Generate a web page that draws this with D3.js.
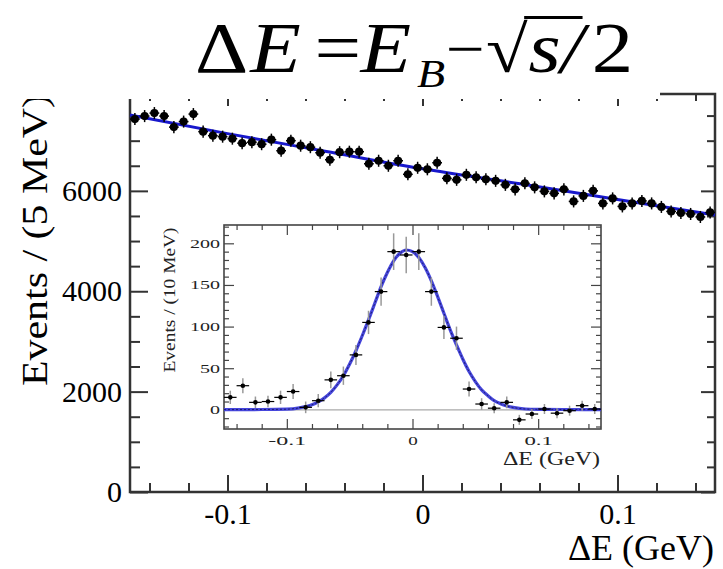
<!DOCTYPE html>
<meta charset="utf-8" />
<html>
  <head>
    <script src="https://d3js.org/d3.v7.min.js"></script>
    <style>
      body {
        margin: 0;
        background-color: white;
      }
    </style>
  </head>
  <body>
    <div id="chart"></div>
  </body>

  <script>
    // main plot: 5 MeV bins from -0.15 to 0.15 GeV
    const binLo = -0.15;
    const mainBin = 0.005;
    const mainCounts = [7430, 7490, 7550, 7490, 7270, 7380, 7530, 7180, 7100, 7080,
                        7040, 6950, 6970, 6930, 7020, 6800, 7000, 6900, 6870, 6760,
                        6620, 6770, 6780, 6780, 6540, 6600, 6500, 6600, 6330, 6460,
                        6430, 6560, 6250, 6220, 6320, 6270, 6230, 6200, 6120, 6030,
                        6150, 6070, 5990, 5950, 6030, 5790, 5900, 6000, 5750, 5850,
                        5690, 5750, 5800, 5750, 5680, 5590, 5560, 5540, 5480, 5570];
    const mainErr = 120;
    const mainFitX = [-0.15, -0.1, -0.05, 0, 0.05, 0.1, 0.15];
    const mainFitY = [7510, 7140, 6790, 6440, 6140, 5830, 5520];
    const mainYMajor = [0, 2000, 4000, 6000];
    const mainXMajor = [-0.1, 0, 0.1];

    // inset: 10 MeV bins, background subtracted
    const insetBin = 0.01;
    const insetCounts = [15, 29, 9, 10, 15, 22, 3, 11, 36, 41,
                         66, 105, 142, 190, 186, 190, 142, 99, 86, 25,
                         7, 2, 9, -12, -5, 1, -4, -1, 5, 1];
    const insetErrs = [8, 9, 7, 7, 8, 9, 7, 8, 10, 11,
                       12, 14, 17, 22, 22, 22, 17, 14, 14, 9,
                       7, 6, 7, 6, 6, 6, 6, 6, 6, 6];
    const insetFitX = [-0.15, -0.12, -0.1, -0.09, -0.08, -0.075, -0.07, -0.065, -0.06, -0.055,
                       -0.05, -0.045, -0.04, -0.035, -0.03, -0.025, -0.02, -0.015, -0.01, -0.005,
                       0, 0.005, 0.01, 0.015, 0.02, 0.025, 0.03, 0.035, 0.04, 0.045,
                       0.05, 0.055, 0.06, 0.065, 0.07, 0.075, 0.08, 0.09, 0.1, 0.12, 0.15];
    const insetFitY = [0.3, 0.4, 0.8, 2.4, 6, 9.6, 14.4, 21, 30, 41,
                       55, 71, 89, 108, 128, 148, 165, 179, 188, 192,
                       190, 183, 171, 155, 136, 116, 96, 78, 61, 46,
                       34, 24, 17, 11, 7.4, 4.7, 2.9, 1, 0.6, 0.4, 0.3];
    const insetYMajor = [0, 50, 100, 150, 200];
    const insetXMajor = [-0.1, 0, 0.1];

    const SERIF = "'Liberation Serif', 'Times New Roman', Times, 'DejaVu Serif', serif";

    const width = 723, height = 569;
    const svg = d3.select('#chart').append("svg")
      .attr("width", width)
      .attr("height", height)
      .style("font-family", SERIF);

    const m = {left: 130, right: 715, top: 94, bottom: 492};
    const x = d3.scaleLinear().domain([-0.15, 0.15]).range([m.left, m.right]);
    const y = d3.scaleLinear().domain([0, 7930]).range([m.bottom, m.top]);

    const fmtX = d => d === 0 ? "0" : d.toFixed(1);
    const minorX = [-14, -12, -8, -6, -4, -2, 2, 4, 6, 8, 12, 14].map(d => d / 100);

    const tickStyle = g => {
      g.attr("font-family", null);
      g.select(".domain").remove();
      g.selectAll("line").attr("stroke", "#333").attr("stroke-width", 2);
    };

    // main frame
    svg.append("rect")
      .attr("x", m.left).attr("y", m.top)
      .attr("width", m.right - m.left).attr("height", m.bottom - m.top)
      .attr("fill", "none").attr("stroke", "#333").attr("stroke-width", 2.5);

    // main axes
    const mainYMinor = d3.range(500, 7930, 500).filter(d => d % 2000 !== 0);
    svg.append("g").attr("transform", `translate(${m.left},0)`)
      .call(d3.axisLeft(y).tickValues(mainYMinor).tickSize(-10).tickFormat(""))
      .call(tickStyle);
    svg.append("g").attr("transform", `translate(${m.left},0)`)
      .call(d3.axisLeft(y).tickValues(mainYMajor).tickSize(-18).tickPadding(8).tickFormat(d3.format("d")))
      .call(tickStyle)
      .call(g => g.selectAll("text").style("font-family", SERIF).style("font-size", "30px").attr("fill", "black"));
    svg.append("g").attr("transform", `translate(${m.right},0)`)
      .call(d3.axisRight(y).tickValues(mainYMinor).tickSize(-8).tickFormat(""))
      .call(tickStyle);
    svg.append("g").attr("transform", `translate(${m.right},0)`)
      .call(d3.axisRight(y).tickValues(mainYMajor).tickSize(-14).tickFormat(""))
      .call(tickStyle);

    svg.append("g").attr("transform", `translate(0,${m.bottom})`)
      .call(d3.axisBottom(x).tickValues(minorX).tickSize(-9).tickFormat(""))
      .call(tickStyle);
    svg.append("g").attr("transform", `translate(0,${m.bottom})`)
      .call(d3.axisBottom(x).tickValues(mainXMajor).tickSize(-17).tickPadding(11).tickFormat(fmtX))
      .call(tickStyle)
      .call(g => g.selectAll("text").style("font-family", SERIF).style("font-size", "30px").attr("fill", "black"));
    svg.append("g").attr("transform", `translate(0,${m.top})`)
      .call(d3.axisTop(x).tickValues(minorX).tickSize(-7).tickFormat(""))
      .call(tickStyle);
    svg.append("g").attr("transform", `translate(0,${m.top})`)
      .call(d3.axisTop(x).tickValues(mainXMajor).tickSize(-12).tickFormat(""))
      .call(tickStyle);

    // main fit line
    const mainFit = mainFitX.map((d, i) => [d, mainFitY[i]]);
    svg.append("path")
      .datum(mainFit)
      .attr("d", d3.line().x(d => x(d[0])).y(d => y(d[1])).curve(d3.curveMonotoneX))
      .attr("fill", "none")
      .attr("stroke", "#1818cc")
      .attr("stroke-width", 3);

    // main data points
    const mainPts = mainCounts.map((v, i) => ({c: binLo + mainBin * (i + 0.5), v: v}));
    const mp = svg.append("g").selectAll("g").data(mainPts).join("g");
    mp.append("line")
      .attr("x1", d => x(d.c)).attr("x2", d => x(d.c))
      .attr("y1", d => y(d.v - mainErr)).attr("y2", d => y(d.v + mainErr))
      .attr("stroke", "black").attr("stroke-width", 1.5);
    mp.append("line")
      .attr("x1", d => x(d.c - mainBin / 2)).attr("x2", d => x(d.c + mainBin / 2))
      .attr("y1", d => y(d.v)).attr("y2", d => y(d.v))
      .attr("stroke", "black").attr("stroke-width", 1.5);
    mp.append("circle")
      .attr("cx", d => x(d.c)).attr("cy", d => y(d.v))
      .attr("r", 4.1).attr("fill", "black");

    // main labels
    svg.append("text")
      .attr("transform", "translate(47,240) rotate(-90)")
      .attr("text-anchor", "middle")
      .attr("textLength", 292).attr("lengthAdjust", "spacingAndGlyphs")
      .style("font-family", SERIF)
      .style("font-size", "35px")
      .text("Events / (5 MeV)");
    svg.append("text")
      .attr("x", 714).attr("y", 560)
      .attr("text-anchor", "end")
      .style("font-family", SERIF)
      .style("font-size", "36px")
      .text("\u0394E (GeV)");

    // title box covering the top of the frame
    svg.append("rect")
      .attr("x", 0).attr("y", 0).attr("width", 660).attr("height", 99)
      .attr("fill", "white");

    // title formula, drawn a little wider than the font
    const tg = svg.append("g").attr("transform", "translate(195,0) scale(1.15,1)");
    const base = 72;
    const piece = (px, txt, italic, size, dy) => tg.append("text")
      .attr("x", px).attr("y", base + (dy || 0))
      .style("font-family", SERIF)
      .style("font-size", (size || 72) + "px")
      .style("font-style", italic ? "italic" : "normal")
      .text(txt);
    piece(0, "\u0394", false);
    piece(48, "E", true);
    piece(104, "=", false);
    piece(144, "E", true);
    piece(193, "B", true, 40, 15);
    piece(218, "\u2212", false, 60, -3);
    const rad = piece(253, "\u221A", false, 66);
    piece(290, "s", true);
    piece(318, "/", true);
    piece(345, "2", false);
    const rb = rad.node().getBBox();
    tg.append("line")
      .attr("x1", rb.x + rb.width - 3).attr("x2", 337)
      .attr("y1", rb.y + 4).attr("y2", rb.y + 4)
      .attr("stroke", "black").attr("stroke-width", 3);

    // inset
    const n = {left: 224, right: 601, top: 225, bottom: 429};
    const xi = d3.scaleLinear().domain([-0.15, 0.15]).range([n.left, n.right]);
    const yi = d3.scaleLinear().domain([-23, 222]).range([n.bottom, n.top]);

    svg.append("rect")
      .attr("x", n.left).attr("y", n.top)
      .attr("width", n.right - n.left).attr("height", n.bottom - n.top)
      .attr("fill", "white").attr("stroke", "#444").attr("stroke-width", 1.6);

    const insetTick = g => {
      g.attr("font-family", null);
      g.select(".domain").remove();
      g.selectAll("line").attr("stroke", "#444").attr("stroke-width", 1.2);
    };
    const insetYMinor = d3.range(-20, 222, 10).filter(d => d % 50 !== 0);

    svg.append("g").attr("transform", `translate(${n.left},0)`)
      .call(d3.axisLeft(yi).tickValues(insetYMinor).tickSize(-5).tickFormat(""))
      .call(insetTick);
    svg.append("g").attr("transform", `translate(${n.left},0)`)
      .call(d3.axisLeft(yi).tickValues(insetYMajor).tickSize(-10).tickPadding(4).tickFormat(d3.format("d")))
      .call(insetTick)
      .call(g => g.selectAll("text")
        .style("font-family", SERIF)
        .style("font-size", "12px").attr("fill", "#222")
        .attr("textLength", d => String(d).length * 10)
        .attr("lengthAdjust", "spacingAndGlyphs"));
    svg.append("g").attr("transform", `translate(${n.right},0)`)
      .call(d3.axisRight(yi).tickValues(insetYMinor).tickSize(-5).tickFormat(""))
      .call(insetTick);
    svg.append("g").attr("transform", `translate(${n.right},0)`)
      .call(d3.axisRight(yi).tickValues(insetYMajor).tickSize(-10).tickFormat(""))
      .call(insetTick);

    svg.append("g").attr("transform", `translate(0,${n.bottom})`)
      .call(d3.axisBottom(xi).tickValues(minorX).tickSize(-5).tickFormat(""))
      .call(insetTick);
    svg.append("g").attr("transform", `translate(0,${n.bottom})`)
      .call(d3.axisBottom(xi).tickValues(insetXMajor).tickSize(-10).tickPadding(7).tickFormat(fmtX))
      .call(insetTick)
      .call(g => g.selectAll("text")
        .style("font-family", SERIF)
        .style("font-size", "12px").attr("fill", "#222")
        .attr("textLength", d => fmtX(d).length * 9.5)
        .attr("lengthAdjust", "spacingAndGlyphs"));
    svg.append("g").attr("transform", `translate(0,${n.top})`)
      .call(d3.axisTop(xi).tickValues(minorX).tickSize(-5).tickFormat(""))
      .call(insetTick);
    svg.append("g").attr("transform", `translate(0,${n.top})`)
      .call(d3.axisTop(xi).tickValues(insetXMajor).tickSize(-10).tickFormat(""))
      .call(insetTick);

    // zero line
    svg.append("line")
      .attr("x1", n.left).attr("x2", n.right)
      .attr("y1", yi(0)).attr("y2", yi(0))
      .attr("stroke", "#aaa").attr("stroke-width", 1.2);

    // inset fit curve
    const insetFit = insetFitX.map((d, i) => [d, insetFitY[i]]);
    const fitLine = d3.line().x(d => xi(d[0])).y(d => yi(d[1])).curve(d3.curveMonotoneX);
    svg.append("path")
      .datum(insetFit)
      .attr("d", fitLine)
      .attr("fill", "none").attr("stroke", "#4646dc").attr("stroke-width", 3.2);
    svg.append("path")
      .datum(insetFit)
      .attr("d", fitLine)
      .attr("fill", "none").attr("stroke", "#1c1c70").attr("stroke-width", 1)
      .attr("stroke-dasharray", "2,2");

    // inset points
    const insetPts = insetCounts.map((v, i) => ({c: binLo + insetBin * (i + 0.5), v: v, e: insetErrs[i]}));
    const ip = svg.append("g").selectAll("g").data(insetPts).join("g");
    ip.append("line")
      .attr("x1", d => xi(d.c)).attr("x2", d => xi(d.c))
      .attr("y1", d => yi(d.v - d.e)).attr("y2", d => yi(d.v + d.e))
      .attr("stroke", "#999").attr("stroke-width", 1.5);
    ip.append("line")
      .attr("x1", d => xi(d.c - insetBin / 2)).attr("x2", d => xi(d.c + insetBin / 2))
      .attr("y1", d => yi(d.v)).attr("y2", d => yi(d.v))
      .attr("stroke", "black").attr("stroke-width", 1.2);
    ip.append("circle")
      .attr("cx", d => xi(d.c)).attr("cy", d => yi(d.v))
      .attr("r", 2.3).attr("fill", "black");

    // inset labels
    svg.append("text")
      .attr("transform", "translate(175,300) rotate(-90)")
      .attr("text-anchor", "middle")
      .attr("textLength", 145).attr("lengthAdjust", "spacingAndGlyphs")
      .style("font-family", SERIF)
      .style("font-size", "17px")
      .attr("fill", "#222")
      .text("Events / (10 MeV)");
    svg.append("text")
      .attr("x", 600).attr("y", 465)
      .attr("text-anchor", "end")
      .attr("textLength", 97).attr("lengthAdjust", "spacingAndGlyphs")
      .style("font-family", SERIF)
      .style("font-size", "18px")
      .attr("fill", "#222")
      .text("\u0394E (GeV)");
  </script>
</html>
